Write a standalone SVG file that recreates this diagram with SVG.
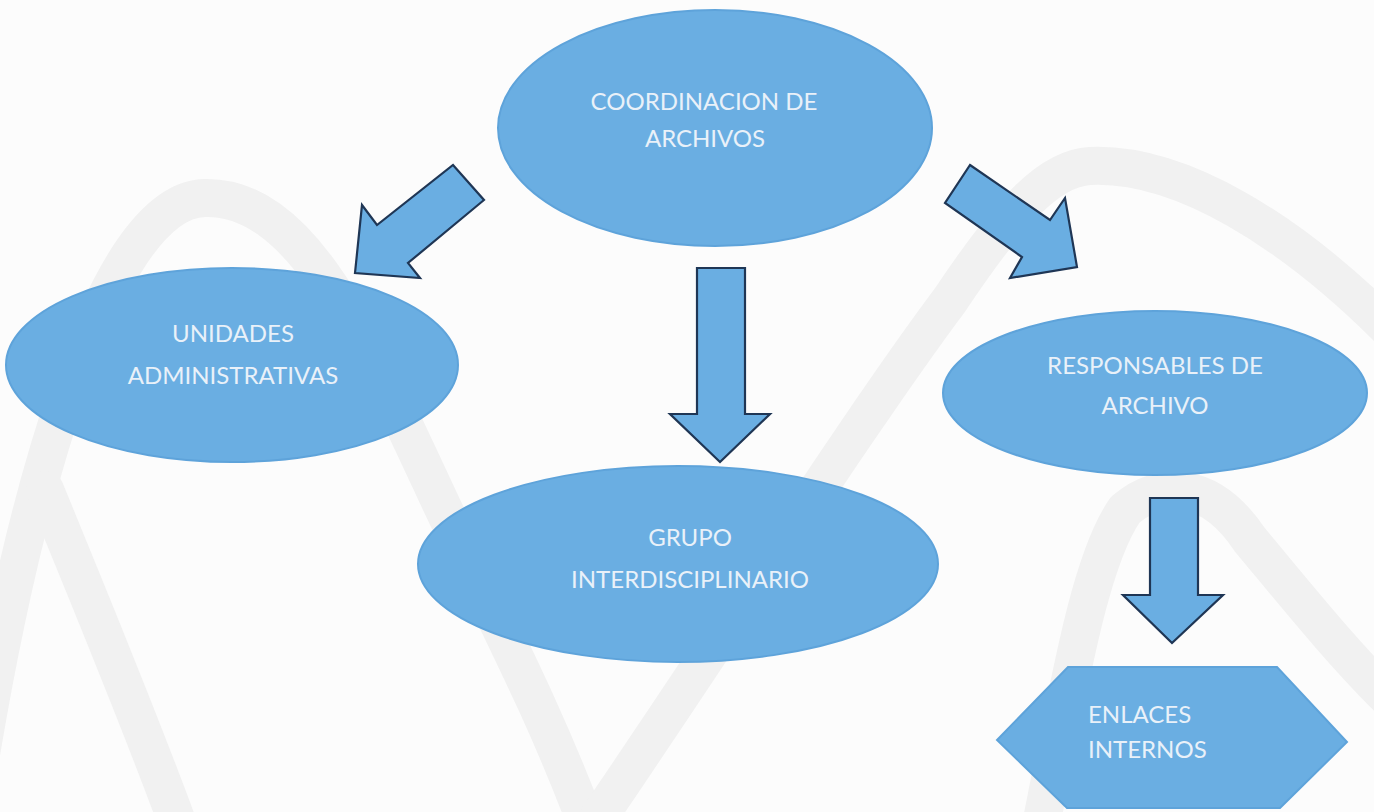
<svg xmlns="http://www.w3.org/2000/svg" width="1374" height="812" viewBox="0 0 1374 812">
<style>
.bg{fill:#fcfcfc}
.wm{fill:none;stroke:#f1f1f1;stroke-width:38;stroke-linecap:round}
.node{fill:#6aaee2;stroke:#5ea3da;stroke-width:2}
.arrow{fill:#6aaee2;stroke:#1f3655;stroke-width:2.2;stroke-linejoin:miter}
.lbl{font-family:Lato,"Open Sans","Liberation Sans",sans-serif;font-size:24px;fill:#e9f1f9;text-anchor:middle}
.lft{text-anchor:start}
</style>
<rect class="bg" x="0" y="0" width="1374" height="812"/>
<g id="watermark">
<path class="wm" d="M -20,760 C 20,520 100,200 205,198 C 300,196 360,330 430,480 C 490,610 540,700 585,820"/>
<path class="wm" d="M 45,490 C 90,600 140,720 180,830"/>
<path class="wm" d="M 590,830 C 720,640 860,420 950,300 C 1010,210 1050,168 1090,166 C 1180,162 1290,230 1390,330"/>
<path class="wm" d="M 1040,830 C 1070,680 1090,560 1125,510 C 1160,480 1210,480 1250,540 C 1300,600 1340,650 1390,700"/>
</g>
<g id="connectors">
<polygon id="arrow-left" class="arrow" points="453,165 484,200 408,263 420,278 355,273 362,205 377,225"/>
<polygon id="arrow-right" class="arrow" points="970,165 1050,220 1065,198 1077,267 1010,278 1022,257 945,203"/>
<polygon id="arrow-center" class="arrow" points="697,268 745,268 745,414 770,414 720,462 670,414 697,414"/>
<polygon id="arrow-enlaces" class="arrow" points="1150,498 1198,498 1198,595 1223,595 1172,643 1123,595 1150,595"/>
</g>
<g id="coordinacion">
<ellipse class="node" cx="715" cy="128" rx="217" ry="118"/>
<text class="lbl" x="704" y="110">COORDINACION DE</text>
<text class="lbl" x="705" y="147">ARCHIVOS</text>
</g>
<g id="unidades">
<ellipse class="node" cx="232" cy="365" rx="226" ry="97"/>
<text class="lbl" x="233" y="342">UNIDADES</text>
<text class="lbl" x="233" y="384">ADMINISTRATIVAS</text>
</g>
<g id="grupo">
<ellipse class="node" cx="678" cy="564" rx="260" ry="98"/>
<text class="lbl" x="690" y="546">GRUPO</text>
<text class="lbl" x="690" y="588">INTERDISCIPLINARIO</text>
</g>
<g id="responsables">
<ellipse class="node" cx="1155" cy="393" rx="212" ry="82"/>
<text class="lbl" x="1155" y="374">RESPONSABLES DE</text>
<text class="lbl" x="1155" y="414">ARCHIVO</text>
</g>
<g id="enlaces">
<polygon class="node" points="1068,667 1277,667 1347,742 1280,808 1067,808 997,740"/>
<text class="lbl lft" x="1088" y="723">ENLACES</text>
<text class="lbl lft" x="1088" y="758">INTERNOS</text>
</g>
</svg>
